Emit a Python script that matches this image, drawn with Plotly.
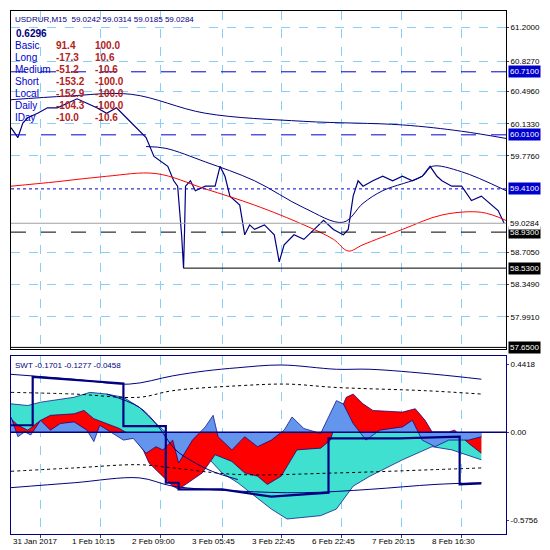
import plotly.graph_objects as go

# time axis in bar-position units (left edge of chart = 3, right edge = 505)
price_x = [3, 10, 15, 20, 30, 40, 50, 60, 70, 80, 90, 100, 110, 120, 130, 140, 148, 155, 162, 168, 172,
           176, 177, 178, 179, 180, 185, 190, 200, 210, 215, 220, 225, 230, 235, 240, 245, 250, 260, 270,
           275, 280, 290, 300, 310, 320, 330, 340, 345, 350, 355, 360, 370, 380, 390, 400, 410, 420, 428,
           435, 440, 450, 460, 470, 480, 490, 497, 503]
price_y = [60.09, 59.98, 60.14, 60.20, 60.25, 60.31, 60.31, 60.36, 60.41, 60.36, 60.31, 60.25, 60.31,
           60.20, 60.09, 59.98, 59.77, 59.71, 59.66, 59.50, 59.44, 58.90, 58.70, 58.53, 58.95, 59.44,
           59.50, 59.39, 59.44, 59.44, 59.66, 59.55, 59.33, 59.28, 59.23, 58.90, 59.01, 58.96, 59.01,
           58.90, 58.60, 58.79, 58.90, 58.85, 58.96, 59.06, 58.96, 58.90, 58.96, 59.33, 59.50, 59.44,
           59.50, 59.55, 59.50, 59.55, 59.50, 59.55, 59.66, 59.55, 59.50, 59.44, 59.44, 59.28, 59.33,
           59.23, 59.17, 59.03]
slow_x = [3, 60, 125, 200, 300, 400, 460, 505]
slow_y = [60.40, 60.44, 60.46, 60.25, 60.16, 60.12, 60.05, 59.97]
env_x = [140, 160, 200, 250, 300, 340, 360, 380, 420, 430, 460, 505]
env_y = [59.88, 59.86, 59.71, 59.50, 59.20, 59.04, 59.25, 59.39, 59.55, 59.66, 59.60, 59.39]
ma_x = [3, 50, 100, 150, 200, 250, 300, 330, 345, 360, 400, 440, 480, 505]
ma_y = [59.44, 59.49, 59.55, 59.58, 59.41, 59.23, 59.01, 58.85, 58.72, 58.79, 58.96, 59.12, 59.15, 59.06]

levels = [60.71, 60.01, 59.41, 58.93, 58.53, 57.65]
level_text = ["60.7100", "60.0100", "59.4100", "58.9300", "58.5300", "57.6500"]
level_colors = ["#0000CD", "#0000CD", "#0000CD", "black", "black", "black"]
last_price = 59.0284

price_ticks = [61.2, 60.827, 60.496, 60.133, 59.776, 58.705, 58.349, 57.991]
price_tick_text = ["61.2000", "60.8270", "60.4960", "60.1330", "59.7760", "58.7050", "58.3490", "57.9910"]

time_grid = [33, 94, 155, 217, 277, 338, 399, 460]
time_labels = ["31 Jan 2017", "1 Feb 10:15", "2 Feb 09:00", "3 Feb 05:45", "3 Feb 22:45",
               "6 Feb 22:45", "7 Feb 20:15", "8 Feb 16:30"]
label_x = [3, 63, 124, 185, 245, 306, 367, 428]

rows = ["Basic", "Long", "Medium", "Short", "Local", "Daily", "IDay"]
row_a = ["91.4", "-17.3", "-51.2", "-153.2", "-152.9", "-104.3", "-10.0"]
row_b = ["100.0", "10.6", "-10.6", "-100.0", "-100.0", "-100.0", "-10.6"]

# SWT panel
cyan_x = [3, 20, 33, 67, 83, 100, 117, 133, 150, 160, 173, 200, 217, 233, 250, 267, 283, 300, 317,
          333, 350, 367, 400, 430, 450, 480]
cyan_y = [0.185, 0.174, 0.196, 0.228, 0.260, 0.249, 0.228, 0.163, 0.056, 0.002, -0.073, -0.148,
          -0.267, -0.331, -0.417, -0.503, -0.568, -0.557, -0.546, -0.503, -0.353, -0.288, -0.181,
          -0.095, -0.116, -0.181]
red_x = [3, 10, 20, 33, 43, 67, 77, 87, 100, 113, 127, 137, 143, 157, 167, 173, 183, 197, 210, 227,
         240, 253, 263, 277, 287, 293, 317, 327, 333, 343, 350, 360, 370, 400, 413, 423, 430, 447,
         453, 467, 480]
red_y = [0.088, 0.045, 0.013, 0.077, 0.110, 0.120, 0.142, 0.088, 0.056, 0.024, -0.030, -0.116,
         -0.202, -0.288, -0.353, -0.374, -0.331, -0.267, -0.148, -0.192, -0.267, -0.288, -0.342,
         -0.288, -0.181, -0.116, -0.105, -0.052, 0.077, 0.228, 0.249, 0.185, 0.142, 0.131, 0.153,
         0.077, 0.002, 0.002, 0.013, -0.073, -0.138]
blue_x = [3, 10, 17, 23, 33, 43, 53, 67, 80, 87, 93, 107, 117, 127, 140, 150, 157, 167, 173, 187,
          200, 208, 213, 227, 240, 253, 267, 280, 288, 300, 317, 333, 340, 350, 363, 377, 400, 410,
          420, 433, 447, 467, 480]
blue_y = [0.099, -0.030, 0.002, -0.019, 0.077, 0.013, 0.056, 0.067, 0.013, -0.062, 0.045, -0.009,
          -0.052, -0.041, -0.138, -0.095, -0.116, -0.052, -0.202, -0.052, 0.034, 0.110, -0.030,
          -0.116, -0.030, -0.095, -0.052, 0.013, 0.099, 0.024, -0.009, 0.206, 0.185, 0.056, -0.052,
          0.013, 0.034, 0.077, -0.052, -0.095, -0.052, -0.052, -0.030]
up_x = [3, 67, 123, 167, 200, 233, 277, 333, 367, 433, 480]
up_y = [0.378, 0.346, 0.314, 0.368, 0.400, 0.421, 0.439, 0.411, 0.411, 0.378, 0.346]
lo_x = [3, 67, 133, 167, 233, 300, 367, 433, 480]
lo_y = [-0.363, -0.331, -0.299, -0.353, -0.385, -0.396, -0.374, -0.342, -0.331]
dup_x = [3, 67, 133, 167, 233, 283, 333, 423, 480]
dup_y = [0.260, 0.249, 0.228, 0.271, 0.303, 0.314, 0.292, 0.271, 0.249]
dlo_x = [3, 67, 133, 167, 233, 333, 433, 480]
dlo_y = [-0.256, -0.234, -0.213, -0.234, -0.277, -0.267, -0.245, -0.234]
sig_x = [100, 133, 150, 170, 187, 207, 233]
sig_y = [0.249, 0.163, 0.056, -0.116, -0.191, -0.256, -0.310]
step_x = [3, 25, 25, 117, 117, 160, 160, 173, 173, 217, 267, 325, 325, 397, 458, 458, 480]
step_y = [0.045, 0.045, 0.361, 0.318, 0.039, 0.039, -0.331, -0.331, -0.374, -0.374, -0.422, -0.396,
          -0.041, -0.041, -0.030, -0.342, -0.335]

navy = "#000080"
FONT = "Liberation Sans"
fig = go.Figure()
fig.add_trace(go.Scatter(x=price_x, y=price_y, mode="lines", line=dict(color=navy, width=1.2)))
fig.add_trace(go.Scatter(x=slow_x, y=slow_y, mode="lines", line=dict(color=navy, width=1, shape="spline")))
fig.add_trace(go.Scatter(x=env_x, y=env_y, mode="lines", line=dict(color=navy, width=1, shape="spline")))
fig.add_trace(go.Scatter(x=ma_x, y=ma_y, mode="lines", line=dict(color="red", width=1, shape="spline")))

for xs, ys, col in [(cyan_x, cyan_y, "#40E0D0"), (red_x, red_y, "#FF0000"), (blue_x, blue_y, "#6495ED")]:
    fig.add_trace(go.Scatter(x=xs, y=ys, mode="lines", fill="tozeroy", fillcolor=col,
                             line=dict(color=navy, width=0.7), xaxis="x2", yaxis="y2"))
for xs, ys, dash in [(up_x, up_y, "solid"), (lo_x, lo_y, "solid"), (dup_x, dup_y, "dot"),
                     (dlo_x, dlo_y, "dot"), (sig_x, sig_y, "solid")]:
    fig.add_trace(go.Scatter(x=xs, y=ys, mode="lines", xaxis="x2", yaxis="y2",
                             line=dict(color=navy if dash == "solid" else "black", width=1, dash=dash,
                                       shape="spline")))
fig.add_trace(go.Scatter(x=[3, 505], y=[0, 0], mode="lines", line=dict(color=navy, width=1.5),
                         xaxis="x2", yaxis="y2"))
fig.add_trace(go.Scatter(x=step_x, y=step_y, mode="lines", line=dict(color=navy, width=2.2),
                         xaxis="x2", yaxis="y2"))

shapes = []
dashes = ["longdash", "longdash", "dot", "longdash", "solid", "solid"]
for lv, col, d in zip(levels, level_colors, dashes):
    shapes.append(dict(type="line", xref="x", yref="y", x0=178 if lv == 58.53 else 3, x1=505,
                       y0=lv, y1=lv, line=dict(color=col, width=1, dash=d)))
shapes.append(dict(type="line", xref="x", yref="y", x0=3, x1=505, y0=last_price, y1=last_price,
                   line=dict(color="#A0A0A0", width=1)))

ann = []
box_font = dict(color="white", size=8, family=FONT)
for lv, txt, col in zip(levels, level_text, level_colors):
    ann.append(dict(xref="paper", x=1.0, xshift=2, yref="y", y=lv, text=txt, showarrow=False, xanchor="left",
                    bgcolor=col, font=box_font, borderpad=1))
ann.append(dict(xref="paper", x=1.0, xshift=2, yref="y", y=last_price, text="59.0284", showarrow=False,
                xanchor="left", bgcolor="white", font=dict(color="black", size=8, family=FONT), borderpad=1))
for lx, t in zip(label_x, time_labels):
    ann.append(dict(xref="x2", x=lx, yref="paper", y=0, yshift=-1, text=t, showarrow=False, xanchor="left",
                    yanchor="top", font=dict(color="black", size=8, family=FONT)))
txt_font = dict(color=navy, size=8, family=FONT)
ann.append(dict(xref="x", x=5, yref="y", y=61.385, yshift=-2, text="USDRUR,M15  59.0242 59.0314 59.0185 59.0284",
                showarrow=False, xanchor="left", yanchor="top", font=txt_font))
ann.append(dict(xref="x", x=6, yref="y", y=61.385, yshift=-15, text="<b>0.6296</b>",
                showarrow=False, xanchor="left", yanchor="top", font=dict(color=navy, size=10, family=FONT)))
red_font = dict(color="#B22222", size=10, family=FONT)
for i, (r, a, b) in enumerate(zip(rows, row_a, row_b)):
    ys = -27 - 12 * i
    ann.append(dict(xref="x", x=5, yref="y", y=61.385, yshift=ys, text=r, showarrow=False,
                    xanchor="left", yanchor="top", font=dict(color="#0000CD", size=10, family=FONT)))
    ann.append(dict(xref="x", x=47, yref="y", y=61.385, yshift=ys, text="<b>" + a + "</b>", showarrow=False,
                    xanchor="left", yanchor="top", font=red_font))
    ann.append(dict(xref="x", x=86, yref="y", y=61.385, yshift=ys, text="<b>" + b + "</b>", showarrow=False,
                    xanchor="left", yanchor="top", font=red_font))
ann.append(dict(xref="x2", x=5, yref="y2", y=0.50, yshift=-3, text="SWT -0.1701 -0.1277 -0.0458",
                showarrow=False, xanchor="left", yanchor="top", font=txt_font))

grid = dict(showgrid=True, gridcolor="#87CEFA", griddash="dash", gridwidth=1)
tick_font = dict(size=8, family=FONT, color="black")
fig.update_layout(
    width=550, height=550, showlegend=False, plot_bgcolor="white", paper_bgcolor="white",
    margin=dict(l=3, r=52, t=3, b=24), shapes=shapes, annotations=ann,
    xaxis=dict(range=[3, 505], domain=[0, 1], anchor="y", tickvals=time_grid, showticklabels=False,
               showline=True, mirror=True, linecolor="black", zeroline=False, **grid),
    xaxis2=dict(range=[3, 505], domain=[0, 1], anchor="y2", tickvals=time_grid, showticklabels=False,
                ticks="outside", ticklen=3, showline=True, mirror=True, linecolor=navy, zeroline=False, **grid),
    yaxis=dict(range=[57.628, 61.385], domain=[0.353, 1], side="right", tickvals=price_ticks,
               ticktext=price_tick_text, ticks="outside", ticklen=2, showline=True, mirror=True,
               linecolor="black", zeroline=False, tickfont=tick_font, **grid),
    yaxis2=dict(range=[-0.666, 0.50], domain=[0, 0.341], side="right", anchor="x2",
                tickvals=[0.4418, 0.0, -0.5756], ticktext=["0.4418", "0.00", "-0.5756"], ticks="outside",
                ticklen=2, showline=True, mirror=True, linecolor=navy, zeroline=False, showgrid=False,
                tickfont=tick_font),
)
fig.write_html("out.html")
